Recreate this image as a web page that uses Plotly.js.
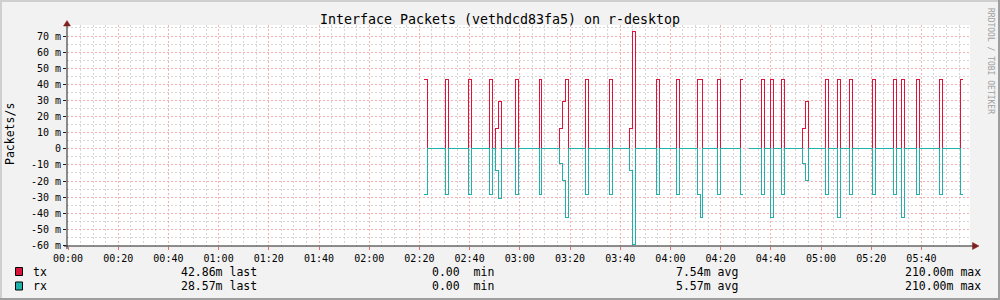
<!DOCTYPE html>
<html>
<head>
<meta charset="utf-8">
<script src="https://cdn.plot.ly/plotly-3.0.1.min.js"></script>
<style>
html,body{margin:0;padding:0;background:#f2f2f2;}
#chart{width:1000px;height:300px;}
.scatterlayer .js-line{shape-rendering:crispEdges;}
</style>
</head>
<body>
<div id="chart"></div>
<script>
// ---- data (time in minutes from 00:00, values in milli-packets/s) ----
// each sample holds its value until the next sample; null = unknown
const tMin = [141.8,143.1,150.3,151.5,159.6,160.8,167.9,169.0,170.2,171.4,172.6,
  178.1,179.4,187.8,188.8,195.7,196.9,198.1,199.3,206.3,207.5,215.7,216.9,
  223.6,224.8,226.0,234.4,235.6,242.4,243.6,250.7,251.9,252.7,258.7,259.9,
  267.9,269.0,271.3,276.2,277.4,279.8,281.0,284.2,285.4,292.6,293.8,294.9,
  301.7,302.9,306.5,307.7,311.3,312.5,320.4,321.6,328.8,330.0,332.0,333.2,
  338.0,339.2,347.1,348.3,355.4,356.7];
const txVals = [42.86,0,42.86,0,42.86,0,42.86,0,12.6,29.6,0,
  42.86,0,42.86,0,12.6,29.6,42.86,0,42.86,0,42.86,0,
  12.6,73.0,0,42.86,0,42.86,0,42.86,42.86,0,42.86,0,
  42.86,null,0,42.86,0,42.86,0,42.86,0,12.6,29.6,0,
  42.86,0,42.86,0,42.86,0,42.86,0,42.86,0,42.86,0,
  42.86,0,42.86,0,42.86,null];
const rxVals = [28.57,0,28.57,0,28.57,0,28.57,0,13.2,30.6,0,
  28.57,0,28.57,0,8.9,19.9,42.86,0,28.57,0,28.57,0,
  13.2,59.1,0,28.57,0,28.57,0,28.57,42.86,0,28.57,0,
  28.57,null,0,28.57,0,42.86,0,28.57,0,8.9,19.9,0,
  28.57,0,42.86,0,28.57,0,28.57,0,28.57,0,42.86,0,
  28.57,0,28.57,0,28.57,null];

const xTickLabels = ['00:00','00:20','00:40','01:00','01:20','01:40','02:00','02:20','02:40',
  '03:00','03:20','03:40','04:00','04:20','04:40','05:00','05:20','05:40'];
const yTickVals = [-60,-50,-40,-30,-20,-10,0,10,20,30,40,50,60,70];
const yTickLabels = ['-60 m','-50 m','-40 m','-30 m','-20 m','-10 m','0','10 m','20 m','30 m','40 m','50 m','60 m','70 m'];

const legendRows = [
  {name:'tx', last:'42.86m last', min:'0.00  min', avg:'7.54m avg', max:'210.00m max', color:'#dc143c'},
  {name:'rx', last:'28.57m last', min:'0.00  min', avg:'5.57m avg', max:'210.00m max', color:'#20b2aa'}
];

// ---- build step traces ----
function stepSeries(t, v, sign){
  const xs=[], ys=[];
  for(let i=0;i<t.length;i++){
    if(v[i]===null){
      if(i>0 && v[i-1]!==null){ xs.push(t[i]); ys.push(sign*v[i-1]); }
      xs.push(t[i]); ys.push(null);
    } else { xs.push(t[i]); ys.push(sign*v[i]); }
  }
  return {xs, ys};
}
const txS = stepSeries(tMin, txVals, 1);
const rxS = stepSeries(tMin, rxVals, -1);

const traces = [
  {x:txS.xs, y:txS.ys, type:'scatter', mode:'lines', line:{shape:'hv', color:legendRows[0].color, width:1}, connectgaps:false, hoverinfo:'skip'},
  {x:rxS.xs, y:rxS.ys, type:'scatter', mode:'lines', line:{shape:'hv', color:legendRows[1].color, width:1}, connectgaps:false, hoverinfo:'skip'}
];

// minor grid positions (between the major grid lines)
const xMinor = [], yMinor = [];
for(let m=5; m<360; m+=5){ if(m%20!==0) xMinor.push(m); }
for(let v=-55; v<80; v+=10){ yMinor.push(v); }

// ---- layout helpers (pixel -> paper) ----
const L=67, R=970, T=25, B=246, W=1000, H=300;
const px = p => (p-L)/(R-L);
const py = p => (B-p)/(B-T);
const MONO = 'DejaVu Sans Mono';

const shapes = [
  // frame shades
  {type:'rect', xref:'paper', yref:'paper', x0:px(0), x1:px(W), y0:py(0), y1:py(2), fillcolor:'#cfcfcf', line:{width:0}, layer:'below'},
  {type:'rect', xref:'paper', yref:'paper', x0:px(0), x1:px(2), y0:py(0), y1:py(H), fillcolor:'#cfcfcf', line:{width:0}, layer:'below'},
  {type:'rect', xref:'paper', yref:'paper', x0:px(0), x1:px(W), y0:py(H-2), y1:py(H), fillcolor:'#9e9e9e', line:{width:0}},
  {type:'rect', xref:'paper', yref:'paper', x0:px(W-2), x1:px(W), y0:py(0), y1:py(H), fillcolor:'#9e9e9e', line:{width:0}},
  // axes
  {type:'line', xref:'paper', yref:'paper', x0:0, x1:0, y0:py(249), y1:py(24), line:{color:'#1f1f1f', width:1}},
  {type:'line', xref:'paper', yref:'paper', x0:px(64), x1:px(975), y0:0, y1:0, line:{color:'#1f1f1f', width:1}},
  // arrows
  {type:'path', xref:'paper', yref:'paper', path:`M ${px(67)} ${py(20.5)} L ${px(63.5)} ${py(26)} L ${px(70.5)} ${py(26)} Z`, fillcolor:'#801f1f', line:{color:'#801f1f', width:0.5}},
  {type:'path', xref:'paper', yref:'paper', path:`M ${px(979)} ${py(246)} L ${px(972.5)} ${py(242.5)} L ${px(972.5)} ${py(249.5)} Z`, fillcolor:'#801f1f', line:{color:'#801f1f', width:0.5}}
];

const annotations = [
  {text:'Packets/s', textangle:-90, xref:'paper', yref:'paper', x:px(10), y:py(134), xanchor:'center', yanchor:'middle', showarrow:false, font:{family:MONO, size:11.5, color:'#000'}},
  {text:'RRDTOOL / TOBI OETIKER', textangle:90, xref:'paper', yref:'paper', x:px(990), y:py(61), xanchor:'center', yanchor:'middle', showarrow:false, font:{family:MONO, size:8, color:'#a0a0a0'}}
];
legendRows.forEach((r, i) => {
  const yc = 271.5 + i*14.5;
  shapes.push({type:'rect', xref:'paper', yref:'paper', x0:px(15.5), x1:px(22.5), y0:py(yc-4), y1:py(yc+4), fillcolor:r.color, line:{color:'#000', width:1}});
  const f = {family:MONO, size:11.5, color:'#000'};
  annotations.push({text:r.name, xref:'paper', yref:'paper', x:px(31), y:py(yc), xanchor:'left', yanchor:'middle', showarrow:false, font:f});
  annotations.push({text:r.last, xref:'paper', yref:'paper', x:px(259), y:py(yc), xanchor:'right', yanchor:'middle', showarrow:false, font:f});
  annotations.push({text:r.min.replace(/ /g,'&nbsp;'), xref:'paper', yref:'paper', x:px(496), y:py(yc), xanchor:'right', yanchor:'middle', showarrow:false, font:f});
  annotations.push({text:r.avg, xref:'paper', yref:'paper', x:px(740), y:py(yc), xanchor:'right', yanchor:'middle', showarrow:false, font:f});
  annotations.push({text:r.max, xref:'paper', yref:'paper', x:px(983.5), y:py(yc), xanchor:'right', yanchor:'middle', showarrow:false, font:f});
});

const majorGrid = '#f4b0b0';
const minorGrid = '#d6d6d6';

const layout = {
  width:W, height:H,
  paper_bgcolor:'#f2f2f2', plot_bgcolor:'#ffffff',
  margin:{l:L, r:W-R, t:T, b:H-B, pad:0, autoexpand:false},
  showlegend:false,
  title:{text:'Interface Packets (vethdcd83fa5) on r-desktop', xref:'container', yref:'container', x:0.5, y:1-19/H, xanchor:'center', yanchor:'middle', font:{family:MONO, size:13.3, color:'#000'}},
  xaxis:{
    range:[-0.4, 359.36], fixedrange:true, automargin:false,
    tickmode:'array', tickvals:xTickLabels.map((_,i)=>i*20), ticktext:xTickLabels,
    tickfont:{family:MONO, size:10, color:'#000'},
    ticks:'outside', ticklen:3, tickcolor:'#e07070', tickwidth:1,
    showgrid:true, gridcolor:majorGrid, griddash:'2px,2px', gridwidth:1,
    zeroline:false, showline:false,
    minor:{tickmode:'array', tickvals:xMinor, showgrid:true, gridcolor:minorGrid, griddash:'2px,2px', gridwidth:1, ticks:''}
  },
  yaxis:{
    range:[-60.31, 76.83], fixedrange:true, automargin:false,
    tickmode:'array', tickvals:yTickVals, ticktext:yTickLabels,
    tickfont:{family:MONO, size:10, color:'#000'},
    ticks:'outside', ticklen:3, tickcolor:'#1f1f1f', tickwidth:1,
    showgrid:true, gridcolor:majorGrid, griddash:'2px,2px', gridwidth:1,
    zeroline:false, showline:false,
    minor:{tickmode:'array', tickvals:yMinor, showgrid:true, gridcolor:minorGrid, griddash:'2px,2px', gridwidth:1, ticks:''}
  },
  shapes:shapes,
  annotations:annotations
};

Plotly.newPlot('chart', traces, layout, {displayModeBar:false, staticPlot:true});
</script>
</body>
</html>
